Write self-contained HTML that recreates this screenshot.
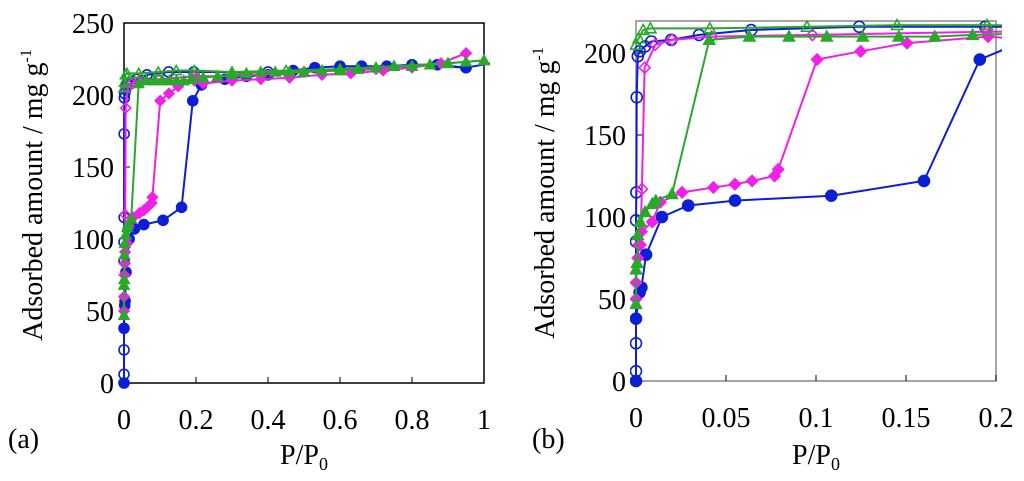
<!DOCTYPE html>
<html><head><meta charset="utf-8">
<style>
html,body{margin:0;padding:0;background:#fff;}
svg, svg text, svg tspan{font-family:"Liberation Serif","Times New Roman",Times,"DejaVu Serif",serif !important;}
</style></head>
<body>
<svg id="fig" width="1024" height="476" viewBox="0 0 1024 476" xmlns="http://www.w3.org/2000/svg">
<defs>
<clipPath id="clipA"><rect x="118" y="10" width="372" height="380"/></clipPath>
<clipPath id="clipB"><rect x="630" y="18" width="372" height="372"/></clipPath>
</defs>
</svg>
<script>
// ---- data (P/P0, adsorbed amount mg/g) ----
const blueAdsP = [0,0,0.002,0.003,0.0056,0.0144,0.029,0.055,0.1085,0.160,0.191,0.215,0.28,0.34,0.40,0.47,0.53,0.60,0.66,0.73,0.80,0.87,0.95];
const blueAdsV = [0,38,54,57,77,100,107,110,113,122,196,207,211,213,214,217,219,220,220,220,221,221,219];
const blueDesP = [1.02,0.95,0.80,0.60,0.40,0.194,0.124,0.064,0.035,0.0196,0.0085,0.005,0.002,0.001,0.0004,0.0002,0,0,0,0];
const blueDesV = [222,219,221,218,216,216,216,214,211,208,207,204,201,198,173,115,98,85,23,6];
const magAdsP = [0,0,0.001,0.0015,0.003,0.009,0.0135,0.0256,0.043,0.055,0.0645,0.077,0.079,0.1006,0.1248,0.1506,0.1956,0.22,0.30,0.38,0.46,0.55,0.63,0.72,0.80,0.88,0.95];
const magAdsV = [50,60,75,83,91,97,109,115,118,120,122,125,129,196,201,206,210,208,210,211,212,214,215,217,219,222,229];
const magDesP = [0.95,0.88,0.70,0.50,0.30,0.195,0.098,0.042,0.02,0.0107,0.0048,0.0033,0.0024];
const magDesV = [229,222,218,216,213,213,211,210,208,205,191,117,83];
const grnAdsP = [0,0,0.0006,0.001,0.0024,0.005,0.009,0.011,0.02,0.0407,0.063,0.085,0.106,0.126,0.146,0.166,0.187,0.22,0.26,0.30,0.34,0.38,0.42,0.46,0.50,0.55,0.60,0.65,0.70,0.75,0.80,0.85,0.90,0.95,1.0];
const grnAdsV = [47,68,72,89,97,103,108,110,114,208,210,210,210,210,210,210,211,212,213,214,215,216,216,216,216,217,217,218,219,220,220,221,222,223,224];
const grnDesP = [1.0,0.90,0.75,0.60,0.45,0.30,0.195,0.145,0.095,0.041,0.008,0.004,0.0015,0];
const grnDesV = [224,222,220,218,217,216,217,217,216,215,215,214,209,205];
const ticksA_x = [0,0.2,0.4,0.6,0.8,1];
const ticksA_xl = ["0","0.2","0.4","0.6","0.8","1"];
const ticksA_y = [0,50,100,150,200,250];
const ticksB_x = [0,0.05,0.1,0.15,0.2];
const ticksB_xl = ["0","0.05","0.1","0.15","0.2"];
const ticksB_y = [0,50,100,150,200];

const NS="http://www.w3.org/2000/svg";
const svg=document.getElementById('fig');
function mk(tag,attrs,parent){const e=document.createElementNS(NS,tag);for(const k in attrs)e.setAttribute(k,attrs[k]);if(tag==='text')e.style.fontFamily='"Liberation Serif", "Times New Roman", serif';(parent||svg).appendChild(e);return e;}

const series=[
 {p:blueAdsP,v:blueAdsV,c:"#0a1fd6",m:"circle",f:true,n:"blue-adsorption"},
 {p:blueDesP,v:blueDesV,c:"#0a1fd6",m:"circle",f:false,n:"blue-desorption"},
 {p:magAdsP,v:magAdsV,c:"#f020e8",m:"diamond",f:true,n:"magenta-adsorption"},
 {p:magDesP,v:magDesV,c:"#f020e8",m:"diamond",f:false,n:"magenta-desorption"},
 {p:grnAdsP,v:grnAdsV,c:"#2aa82a",m:"tri",f:true,n:"green-adsorption"},
 {p:grnDesP,v:grnDesV,c:"#2aa82a",m:"tri",f:false,n:"green-desorption"}
];

function panel(o){
  const X=v=>o.x0+(v-o.xmin)/(o.xmax-o.xmin)*(o.x1-o.x0);
  const Y=v=>o.y0-(v/o.ymax)*(o.y0-o.y1);
  const g=mk('g',{});
  
  
  const fr=mk('rect',{x:o.x0,y:o.y1,width:o.x1-o.x0,height:o.y0-o.y1,fill:'none',stroke:o.frame,'stroke-width':1.5},g);
  
  
  o.tx.forEach((t,i)=>{
    const x=X(t);
    const tk=mk('line',{x1:x,x2:x,y1:o.y0,y2:o.y0-6,stroke:'#000','stroke-width':1},g);
    
    
    const tl=mk('text',{x:x,y:o.y0+46,'font-size':28,'text-anchor':'middle',fill:'#000'},g);
    tl.textContent=o.txl[i];
    
    
  });
  o.ty.forEach(t=>{
    const y=Y(t);
    const tk=mk('line',{x1:o.x0,x2:o.x0+6,y1:y,y2:y,stroke:'#000','stroke-width':1},g);
    
    
    const tl=mk('text',{x:o.x0-10,y:y+10,'font-size':28,'text-anchor':'end',fill:'#000'},g);
    tl.textContent=String(t);
    
    
  });
  const yl=mk('text',{x:0,y:0,'font-size':28,'text-anchor':'middle',transform:`translate(${o.ylx},${(o.y0+o.y1)/2-8}) rotate(-90)`},g);
  yl.innerHTML='Adsorbed amount / mg g<tspan dy="-11" font-size="16">-1</tspan>';
  
  
  const xl=mk('text',{x:(o.x0+o.x1)/2,y:464,'font-size':28,'text-anchor':'middle'},g);
  xl.innerHTML='P/P<tspan dy="6" font-size="18">0</tspan>';
  
  
  const pl=mk('text',{x:o.lx,y:448,'font-size':28},g);
  pl.textContent=o.label;
  
  
  const cg=mk('g',{'clip-path':`url(#${o.clip})`},g);
  series.forEach(s=>{
    const sg=mk('g',{},cg);
    
    
    const pts=s.p.map((p,i)=>X(p).toFixed(1)+','+Y(s.v[i]).toFixed(1)).join(' ');
    const ln=mk('polyline',{points:pts,fill:'none',stroke:s.c,'stroke-width':2},sg);
    
    
    s.p.forEach((p,i)=>{
      if(p>o.xmax+0.001) return;
      const x=X(p),y=Y(s.v[i]);const r=o.r;
      let e;
      const st={fill:s.f?s.c:'#fff','fill-opacity':s.f?1:0,stroke:s.c,'stroke-width':1.6};
      if(s.m==='circle') e=mk('circle',Object.assign({cx:x,cy:y,r:r},st),sg);
      else if(s.m==='diamond') e=mk('polygon',Object.assign({points:`${x},${y-r} ${x+r},${y} ${x},${y+r} ${x-r},${y}`},st),sg);
      else e=mk('polygon',Object.assign({points:`${x},${y-r} ${x+r},${y+r*0.8} ${x-r},${y+r*0.8}`},st),sg);
      
      
    });
  });
}
panel({name:'panel-a',x0:124,x1:484,y0:383,y1:23,xmin:0,xmax:1,ymax:250,tx:ticksA_x,txl:ticksA_xl,ty:ticksA_y,ylx:42,lx:8,label:'(a)',frame:'#000',clip:'clipA',r:5});
panel({name:'panel-b',x0:636,x1:996,y0:381,y1:21,xmin:0,xmax:0.2,ymax:219.5,tx:ticksB_x,txl:ticksB_xl,ty:ticksB_y,ylx:554,lx:532,label:'(b)',frame:'#888',clip:'clipB',r:5.5});
</script>
</body></html>
